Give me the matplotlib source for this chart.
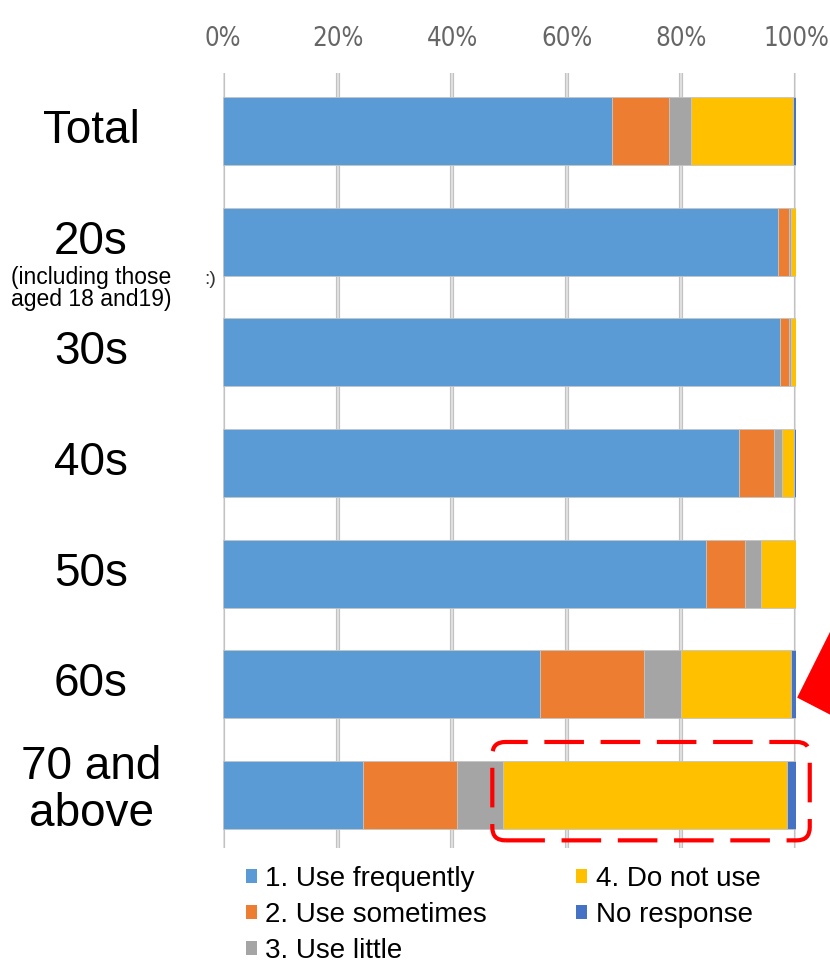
import matplotlib
matplotlib.use("Agg")
import matplotlib.pyplot as plt
from matplotlib.patches import Patch, FancyBboxPatch, Polygon
import numpy as np

# Survey: how often each age group uses the service (% of respondents)
groups = ["Total", "20s", "30s", "40s", "50s", "60s", "70 and\nabove"]
group_note = "(including those\naged 18 and19)"
responses = ["1. Use frequently", "2. Use sometimes", "3. Use little",
             "4. Do not use", "No response"]
use_frequently = [67.9, 96.8, 97.2, 90.1, 84.3, 55.3, 24.4]
use_sometimes = [10.0, 2.0, 1.6, 6.1, 6.8, 18.1, 16.4]
use_little = [3.8, 0.4, 0.3, 1.3, 2.8, 6.6, 8.0]
do_not_use = [17.7, 0.8, 0.9, 2.2, 6.1, 19.1, 49.7]
no_response = [0.6, 0.0, 0.0, 0.3, 0.0, 0.9, 1.5]
x_ticks = [0, 20, 40, 60, 80, 100]
x_tick_labels = ["0%", "20%", "40%", "60%", "80%", "100%"]

colors = ["#5B9BD5", "#ED7D31", "#A5A5A5", "#FFC000", "#4472C4"]
series = [use_frequently, use_sometimes, use_little, do_not_use, no_response]

W, H = 830, 967
fig = plt.figure(figsize=(W / 100, H / 100), dpi=100)
ax = fig.add_axes([223 / W, 119 / H, 573 / W, 775 / H])

y = np.arange(len(groups))
left = np.zeros(len(groups))
for vals, col in zip(series, colors):
    vals = np.array(vals)
    ax.barh(y, vals, left=left, height=0.614, color=col,
            edgecolor="#c4c4c4", linewidth=0.6, zorder=3)
    left += vals

ax.set_xlim(0, 100)
ax.set_ylim(6.479, -0.524)

# vertical gridlines with a light centre stroke
for t in x_ticks:
    ax.axvline(t, color="#c2c2c2", lw=3.0, zorder=1, solid_capstyle="round")
    ax.axvline(t, color="#e8e8e8", lw=1.1, zorder=1.5, solid_capstyle="round")

for s in ax.spines.values():
    s.set_visible(False)
ax.xaxis.tick_top()
ax.set_xticks(x_ticks)
ax.set_xticklabels(x_tick_labels, family="DejaVu Sans", fontstretch="condensed",
                   fontweight="light", fontsize=18.5, color="#666666")
ax.tick_params(axis="x", length=0, pad=15)
ax.set_yticks([])

# category labels on the left
label_font = ["Liberation Sans", "DejaVu Sans"]
label_x = -(223 - 91) / 573 * 100
for i, g in enumerate(groups):
    yy = i if "\n" not in g else i - 0.04
    ax.text(label_x, yy, g, ha="center", va="center",
            fontsize=33, family=label_font, linespacing=1.1, clip_on=False)
note_lines = group_note.split("\n")
ax.text(label_x, 1 + 36 / 110.67, note_lines[0], ha="center",
        va="center", fontsize=16.5, family=label_font, clip_on=False)
ax.text(label_x, 1 + 58 / 110.67, note_lines[1], ha="center",
        va="center", fontsize=16.5, family=label_font, clip_on=False)
ax.text(-(223 - 210) / 573 * 100, 1 + 38 / 110.67, ":)", ha="center",
        va="center", fontsize=14, family=label_font, color="#333333", clip_on=False)

# legend
handles = [Patch(facecolor=c, edgecolor="none") for c in colors]
fig.legend(handles, responses, loc="upper left", ncol=2,
           bbox_to_anchor=(246 / W, 1 - 866 / H), frameon=False,
           prop={"family": label_font, "size": 20},
           handlelength=0.4, handleheight=0.4, handletextpad=0.3,
           columnspacing=3.2, labelspacing=0.36, borderpad=0, borderaxespad=0)

# callout: dashed rounded box around the oldest group's non-users
fig.canvas.draw()
x0, y0 = ax.transData.transform((47.0, 6.41))
x1, y1 = ax.transData.transform((102.4, 5.521))
box = FancyBboxPatch((x0, y0), x1 - x0, y1 - y0,
                     boxstyle="round,pad=0,rounding_size=13",
                     fill=False, edgecolor="#FF0000", linewidth=3.0,
                     linestyle=(0, (9.5, 4.0)), transform=None, zorder=10)
fig.patches.append(box)

# red pointer arrow at the 60s bar
tx, ty = ax.transData.transform((100.2, 5.12))
arrow = Polygon([(tx, ty), (tx + 60, ty + 120), (tx + 60, ty - 31)],
                closed=True, facecolor="#FF0000", edgecolor="none",
                transform=None, zorder=10)
fig.patches.append(arrow)

fig.savefig("out.png", dpi=100)
